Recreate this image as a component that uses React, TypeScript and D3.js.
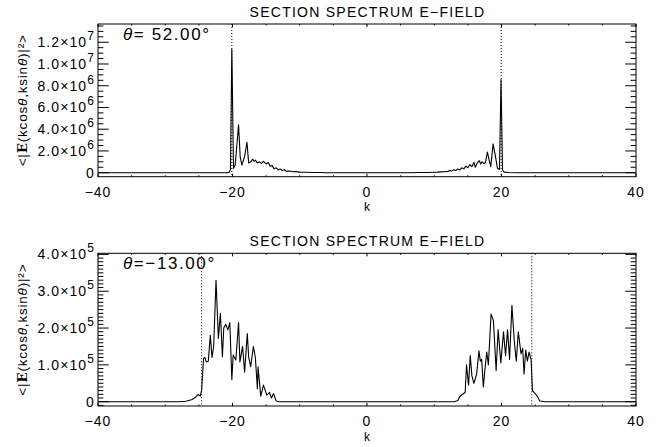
import React from "react";
import * as d3 from "d3";

// ---------- data ----------
const xTickValues = [-40, -20, 0, 20, 40];
const xTickLabels = ["−40", "−20", "0", "20", "40"];

const topK = [-40, -25, -21, -20.5, -20.3, -20.1, -19.85, -19.6, -19.1, -18.85, -18.6, -18.2, -17.85, -17.6, -17.3, -17.0, -16.8, -16.6, -16.3, -16.0, -15.7, -15.4, -15.0, -14.7, -14.4, -14.1, -13.8, -13.5, -13.2, -12.9, -12.6, -12.3, -12.0, -11.5, -11.0, -10.5, -10, -9, -8, -7, -6,
  6, 8, 9, 10, 10.5, 11, 11.5, 12, 12.3, 12.6, 12.9, 13.2, 13.5, 13.8, 14.1, 14.4, 14.7, 15.0, 15.3, 15.6, 15.9, 16.1, 16.4, 16.7, 16.9, 17.1, 17.35, 17.6, 17.9, 18.15, 18.4, 18.75, 19.1, 19.4, 19.7, 19.93, 20.15, 20.4, 21, 22, 40];
const topE = [0, 0, 0, 0.03e6, 0.3e6, 11.35e6, 0.4e6, 0.7e6, 4.4e6, 1.4e6, 0.7e6, 1.5e6, 2.8e6, 0.9e6, 1.0e6, 1.25e6, 1.05e6, 1.15e6, 0.9e6, 1.0e6, 0.85e6, 1.05e6, 0.8e6, 0.95e6, 0.6e6, 0.65e6, 0.35e6, 0.45e6, 0.25e6, 0.35e6, 0.2e6, 0.28e6, 0.12e6, 0.15e6, 0.08e6, 0.1e6, 0.05e6, 0.04e6, 0.02e6, 0.01e6, 0,
  0, 0.01e6, 0.02e6, 0.04e6, 0.05e6, 0.07e6, 0.09e6, 0.12e6, 0.2e6, 0.14e6, 0.28e6, 0.2e6, 0.35e6, 0.25e6, 0.45e6, 0.35e6, 0.6e6, 0.45e6, 0.75e6, 0.55e6, 0.95e6, 0.5e6, 0.9e6, 1.1e6, 0.8e6, 1.0e6, 0.85e6, 0.9e6, 1.9e6, 1.2e6, 0.55e6, 2.65e6, 1.5e6, 0.4e6, 0.3e6, 8.56e6, 0.25e6, 0.05e6, 0.01e6, 0, 0];
const topDotted = [-20.1, 19.95];
const topYTicks = [0, 2e6, 4e6, 6e6, 8e6, 10e6, 12e6];
const topYLabels = [["0", ""], ["2.0×10", "6"], ["4.0×10", "6"], ["6.0×10", "6"], ["8.0×10", "6"], ["1.0×10", "7"], ["1.2×10", "7"]];
const topTheta = "θ= 52.00°";

const botK = [-40, -28, -27, -26.5, -26, -25.5, -25.1, -24.8, -24.6, -24.3, -24.1, -23.9, -23.6, -23.3, -23.05, -22.8, -22.45, -22.1, -21.8, -21.5, -21.3, -21.0, -20.7, -20.4, -20.1, -19.9, -19.5, -19.1, -18.9, -18.5, -18.2, -17.8, -17.6, -17.3, -16.9, -16.6, -16.3, -16.2, -15.8, -15.4, -14.9, -14.5, -14.2, -13.9, -13.5, -13,
  13, 13.5, 13.8, 14.2, 14.6, 14.8, 15.1, 15.35, 15.6, 15.9, 16.3, 16.65, 16.85, 17.05, 17.3, 17.55, 17.8, 18.05, 18.45, 18.8, 19.2, 19.5, 19.9, 20.3, 20.6, 20.9, 21.2, 21.55, 21.9, 22.2, 22.5, 22.9, 23.15, 23.35, 23.6, 23.85, 24.1, 24.4, 24.6, 25.0, 25.2, 25.7, 26.5, 40];
const botE = [0, 0, 0.01e5, 0.03e5, 0.06e5, 0.12e5, 0.2e5, 0.15e5, 0.3e5, 1.18e5, 1.2e5, 1.08e5, 1.1e5, 1.8e5, 1.2e5, 1.5e5, 3.3e5, 1.72e5, 2.4e5, 1.22e5, 2.0e5, 2.1e5, 1.95e5, 2.15e5, 0.6e5, 1.27e5, 1.13e5, 2.15e5, 1.08e5, 1.5e5, 0.8e5, 1.85e5, 1.22e5, 0.95e5, 1.5e5, 1.2e5, 0.35e5, 0.95e5, 0.15e5, 0.45e5, 0.18e5, 0.25e5, 0.1e5, 0.22e5, 0.02e5, 0,
  0, 0.03e5, 0.14e5, 0.2e5, 0.25e5, 1.0e5, 0.45e5, 1.25e5, 0.7e5, 0.5e5, 0.75e5, 1.38e5, 1.1e5, 1.15e5, 0.4e5, 0.9e5, 1.35e5, 1.0e5, 2.38e5, 2.2e5, 0.85e5, 1.95e5, 1.05e5, 1.9e5, 1.25e5, 1.95e5, 1.15e5, 2.62e5, 1.65e5, 1.1e5, 1.9e5, 1.3e5, 1.45e5, 0.75e5, 1.4e5, 1.1e5, 1.35e5, 1.15e5, 0.3e5, 0.22e5, 0.18e5, 0.02e5, 0, 0];
const botDotted = [-24.6, 24.5];
const botYTicks = [0, 1e5, 2e5, 3e5, 4e5];
const botYLabels = [["0", ""], ["1.0×10", "5"], ["2.0×10", "5"], ["3.0×10", "5"], ["4.0×10", "5"]];
const botTheta = "θ=−13.00°";

const titleText = "SECTION SPECTRUM E−FIELD";
const xTitle = "k";

// ---------- layout ----------
const W = 665, H = 447;
const L = 98, R = 636;
const FONT = "'Liberation Sans', Arial, sans-serif";

type PanelProps = {
  top: number; bottom: number; yDomain: [number, number];
  k: number[]; e: number[]; dotted: number[];
  yTicks: number[]; yLabels: string[][]; yMinorStep: number; theta: string;
};

function Panel(p: PanelProps) {
  const x = d3.scaleLinear().domain([-40, 40]).range([L, R]);
  const y = d3.scaleLinear().domain(p.yDomain).range([p.bottom, p.top]);
  const pts: [number, number][] = p.k.map((kk, i) => [kk, p.e[i]]);
  const line = d3.line<[number, number]>().x(d => x(d[0])).y(d => y(d[1]));
  const ph = p.bottom - p.top;
  const pw = R - L;
  const xMaj = 0.02 * ph, xMin = 0.01 * ph;
  const yMaj = 0.02 * pw, yMin = 0.01 * pw;
  const xMinor = d3.range(-40, 40.01, 5).filter(v => !xTickValues.includes(v));
  const yMinor = d3.range(Math.ceil(p.yDomain[0] / p.yMinorStep) * p.yMinorStep, p.yDomain[1], p.yMinorStep)
    .filter(v => !p.yTicks.some(t => Math.abs(t - v) < p.yMinorStep / 10));
  const cx = (L + R) / 2;
  const cy = (p.top + p.bottom) / 2;
  return (
    <g>
      <text x={cx + 0.5} y={p.top - 7} textAnchor="middle" fontSize={14} letterSpacing={1.25} fontFamily={FONT}>{titleText}</text>
      <clipPath id={"clip" + Math.round(p.top)}><rect x={L} y={p.top} width={pw} height={ph} /></clipPath>
      {p.dotted.map((d, i) => (
        <line key={"d" + i} x1={x(d)} x2={x(d)} y1={p.top} y2={p.bottom} stroke="#000" strokeWidth={1} strokeDasharray="1,2" />
      ))}
      <path d={line(pts) || ""} fill="none" stroke="#000" strokeWidth={1.1} strokeLinejoin="round" clipPath={`url(#clip${Math.round(p.top)})`} />
      <rect x={L} y={p.top} width={pw} height={ph} fill="none" stroke="#000" strokeWidth={1} />
      {/* x ticks */}
      {xTickValues.map((v, i) => (
        <g key={"xt" + i}>
          <line x1={x(v)} x2={x(v)} y1={p.bottom} y2={p.bottom - xMaj} stroke="#000" />
          <line x1={x(v)} x2={x(v)} y1={p.top} y2={p.top + xMaj} stroke="#000" />
          <text x={x(v)} y={p.bottom + 20} textAnchor="middle" fontSize={14} letterSpacing={1} fontFamily={FONT}>{xTickLabels[i]}</text>
        </g>
      ))}
      {xMinor.map((v, i) => (
        <g key={"xm" + i}>
          <line x1={x(v)} x2={x(v)} y1={p.bottom} y2={p.bottom - xMin} stroke="#000" />
          <line x1={x(v)} x2={x(v)} y1={p.top} y2={p.top + xMin} stroke="#000" />
        </g>
      ))}
      <text x={cx} y={p.bottom + 34.5} textAnchor="middle" fontSize={12} fontFamily={FONT}>{xTitle}</text>
      {/* y ticks */}
      {p.yTicks.map((v, i) => (
        <g key={"yt" + i}>
          <line x1={L} x2={L + yMaj} y1={y(v)} y2={y(v)} stroke="#000" />
          <line x1={R} x2={R - yMaj} y1={y(v)} y2={y(v)} stroke="#000" />
          <text x={L - 3} y={y(v) + 5} textAnchor="end" fontSize={14} letterSpacing={1.1} fontFamily={FONT}>
            {p.yLabels[i][0]}
            {p.yLabels[i][1] ? <tspan dy={-7} fontSize={12}>{p.yLabels[i][1]}</tspan> : null}
          </text>
        </g>
      ))}
      {yMinor.map((v, i) => (
        <g key={"ym" + i}>
          <line x1={L} x2={L + yMin} y1={y(v)} y2={y(v)} stroke="#000" />
          <line x1={R} x2={R - yMin} y1={y(v)} y2={y(v)} stroke="#000" />
        </g>
      ))}
      <text transform={`translate(27,${cy}) rotate(-90)`} textAnchor="middle" fontSize={13.5} letterSpacing={0.8} fontFamily={FONT}>
        {"<|"}<tspan fontWeight="bold" fontFamily="'DejaVu Serif', serif">E</tspan>{"(kcos"}<tspan fontStyle="italic">θ</tspan>{",ksin"}<tspan fontStyle="italic">θ</tspan>{")|²>"}
      </text>
      <text x={123} y={p.top + 16} fontSize={17} letterSpacing={1.6} fontFamily={FONT}>
        <tspan fontStyle="italic">θ</tspan>{p.theta.slice(1)}
      </text>
    </g>
  );
}

export default function App() {
  return (
    <svg width={W} height={H} style={{ position: "absolute", left: 0, top: 0, background: "#fff" }}>
      <rect x={0} y={0} width={W} height={H} fill="#fff" />
      <Panel top={24} bottom={176.7} yDomain={[-0.37e6, 13.68e6]} k={topK} e={topE} dotted={topDotted}
        yTicks={topYTicks} yLabels={topYLabels} yMinorStep={0.5e6} theta={topTheta} />
      <Panel top={253.3} bottom={406} yDomain={[-0.117e5, 4.03e5]} k={botK} e={botE} dotted={botDotted}
        yTicks={botYTicks} yLabels={botYLabels} yMinorStep={1e4} theta={botTheta} />
    </svg>
  );
}
